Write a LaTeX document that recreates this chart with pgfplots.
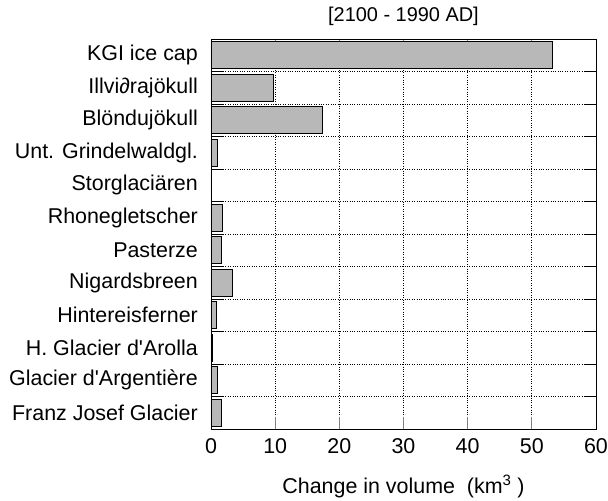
\documentclass[border=0pt]{standalone}
\usepackage{fontspec}
\setmainfont{Liberation Sans}
\usepackage{pgfplots}
\pgfplotsset{compat=1.18}
\begin{document}
\fontsize{21}{25}\selectfont
\begin{tikzpicture}
\begin{axis}[
  at={(0,0)}, anchor=south west,
  scale only axis, width=385bp, height=390bp,
  xbar, bar width=0.83,
  xmin=0, xmax=60, ymin=-0.5, ymax=11.5,
  y dir=reverse,
  xtick={0,10,...,60},
  ytick={0,...,11},
  yticklabels={KGI ice cap,Illvi∂rajökull,Blöndujökull,Unt. Grindelwaldgl.,Storglaciären,Rhonegletscher,Pasterze,Nigardsbreen,Hintereisferner,H. Glacier d\textquotesingle Arolla,Glacier d\textquotesingle Argentière,Franz Josef Glacier},
  minor ytick={0.5,1.5,...,10.5},
  major tick length=12bp, minor tick length=12bp,
  major y tick style={draw=none},
  minor y tick style={draw=black, line width=0.8pt},
  major x tick style={line width=0.8pt},
  xmajorgrids, yminorgrids,
  major grid style={dotted, black, line width=0.7pt},
  minor grid style={dotted, black, line width=0.7pt},
  axis line style={line width=0.9pt},
  tick align=inside,
  /pgf/number format/assume math mode=true,
  ticklabel style={font=\fontsize{21.5}{25}\selectfont},
  yticklabel style={xshift=-6bp},
  xticklabel style={yshift=-2bp},
  xlabel={Change in volume\ \ (km\textsuperscript{3} )},
  xlabel style={font=\fontsize{21.5}{25}\selectfont, yshift=-8bp},
  title={[2100 - 1990 AD]},
  title style={font=\fontsize{20}{24}\selectfont, yshift=0bp},
  clip=false,
]
\addplot[fill=black!28, draw=black, line width=0.8pt] coordinates {
 (53.2,0) (9.7,1) (17.3,2) (1.0,3) (0.1,4) (1.8,5) (1.6,6) (3.4,7) (0.9,8) (0.2,9) (1.0,10) (1.6,11)
};
\end{axis}
\pgfresetboundingbox
\path[use as bounding box] (-211bp,-72bp) rectangle (397bp,429bp);
\end{tikzpicture}
\end{document}
